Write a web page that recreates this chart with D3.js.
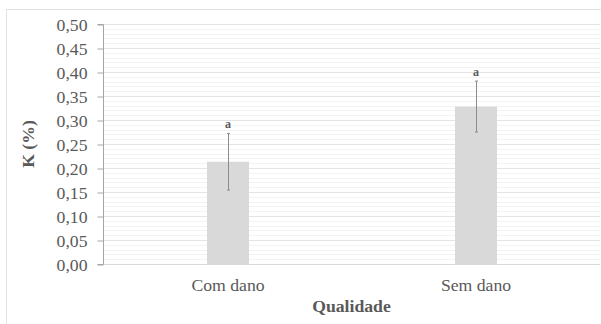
<!DOCTYPE html>
<html>
<head>
<meta charset="utf-8">
<script src="https://cdn.jsdelivr.net/npm/d3@7"></script>
<style>
  html, body { margin: 0; padding: 0; background: #fff; }
  svg { display: block; }
</style>
</head>
<body>
<svg id="chart" width="601" height="324"></svg>
<script>
// Potássio (K, %) por qualidade, média ± desvio
const categories = ["Com dano", "Sem dano"];
const means = [0.213, 0.328];
const errors = [0.059, 0.053];
const letters = ["a", "a"];
const yTicks = [0, 0.05, 0.10, 0.15, 0.20, 0.25, 0.30, 0.35, 0.40, 0.45, 0.50];
const yMinorTicks = d3.range(0, 0.5001, 0.01);

const svg = d3.select("#chart");
const W = 601, H = 324;
const margin = { left: 104, right: 1, top: 24, bottom: 60 };
const font = "'Liberation Serif', 'Times New Roman', serif";

// Chart area frame
svg.append("rect")
  .attr("x", 6.5).attr("y", 9.5)
  .attr("width", W + 10).attr("height", H + 10)
  .attr("fill", "#fff").attr("stroke", "#e3e3e3").attr("stroke-width", 1);

const x = d3.scaleBand().domain(categories)
  .range([margin.left, W - margin.right]).paddingInner(0).paddingOuter(0);
const y = d3.scaleLinear().domain([0, 0.5]).range([H - margin.bottom, margin.top]);

const plotL = margin.left, plotR = W - margin.right;

// Minor gridlines
svg.append("g").selectAll("line").data(yMinorTicks).join("line")
  .attr("x1", plotL).attr("x2", plotR)
  .attr("y1", d => Math.round(y(d)) + 0.5).attr("y2", d => Math.round(y(d)) + 0.5)
  .attr("stroke", "#f3f3f3").attr("stroke-width", 1);

// Major gridlines
svg.append("g").selectAll("line").data(yTicks.slice(1)).join("line")
  .attr("x1", plotL).attr("x2", plotR)
  .attr("y1", d => Math.round(y(d)) + 0.5).attr("y2", d => Math.round(y(d)) + 0.5)
  .attr("stroke", "#e4e4e4").attr("stroke-width", 1);

// Bars
const barW = 42;
svg.append("g").selectAll("rect").data(categories).join("rect")
  .attr("x", d => x(d) + x.bandwidth() / 2 - barW / 2)
  .attr("y", (d, i) => y(means[i]))
  .attr("width", barW)
  .attr("height", (d, i) => y(0) - y(means[i]))
  .attr("fill", "#d9d9d9");

// Baseline
svg.append("line")
  .attr("x1", plotL).attr("x2", plotR)
  .attr("y1", Math.round(y(0)) + 0.5).attr("y2", Math.round(y(0)) + 0.5)
  .attr("stroke", "#d9d9d9");

// Error bars
const eg = svg.append("g").attr("stroke", "#8c8c8c").attr("stroke-width", 1);
categories.forEach((c, i) => {
  const cx = Math.round(x(c) + x.bandwidth() / 2) + 0.5;
  const yt = y(means[i] + errors[i]), yb = y(means[i] - errors[i]);
  eg.append("line").attr("x1", cx).attr("x2", cx).attr("y1", yt).attr("y2", yb);
  eg.append("line").attr("x1", cx - 1.5).attr("x2", cx + 1.5).attr("y1", yt).attr("y2", yt);
  eg.append("line").attr("x1", cx - 1.5).attr("x2", cx + 1.5).attr("y1", yb).attr("y2", yb);
});

// Significance letters
svg.append("g").selectAll("text").data(categories).join("text")
  .attr("x", d => x(d) + x.bandwidth() / 2)
  .attr("y", (d, i) => y(means[i] + errors[i]) - 5.5)
  .attr("text-anchor", "middle")
  .attr("font-family", font).attr("font-size", 12).attr("font-weight", "bold")
  .attr("fill", "#595959")
  .text((d, i) => letters[i]);

// Y axis
const yAxis = d3.axisLeft(y).tickValues(yTicks).tickSize(6).tickPadding(10)
  .tickFormat(d => d3.format(".2f")(d).replace(".", ","));
const ya = svg.append("g").attr("transform", `translate(${plotL - 0.5},0.5)`).call(yAxis);
ya.select(".domain").attr("stroke", "#a6a6a6").attr("d", `M-6,${y(0.5)}H0V${y(0)}H-6`);
ya.selectAll(".tick line").attr("stroke", "#a6a6a6");
ya.selectAll(".tick text")
  .attr("font-family", font).attr("font-size", 17.7).attr("fill", "#595959");

// X axis category labels
const xAxis = d3.axisBottom(x).tickSize(0).tickPadding(14);
const xa = svg.append("g").attr("transform", `translate(0,${y(0)})`).call(xAxis);
xa.select(".domain").remove();
xa.selectAll(".tick text")
  .attr("font-family", font).attr("font-size", 17.7).attr("fill", "#595959");

// Axis titles
svg.append("text")
  .attr("x", (plotL + plotR) / 2 - 0.5).attr("y", 312)
  .attr("text-anchor", "middle")
  .attr("font-family", font).attr("font-size", 17.7).attr("font-weight", "bold")
  .attr("fill", "#595959")
  .text("Qualidade");

svg.append("text")
  .attr("transform", `translate(34,${(y(0) + y(0.5)) / 2}) rotate(-90)`)
  .attr("text-anchor", "middle")
  .attr("font-family", font).attr("font-size", 17.7).attr("font-weight", "bold")
  .attr("fill", "#595959")
  .text("K (%)");
</script>
</body>
</html>
